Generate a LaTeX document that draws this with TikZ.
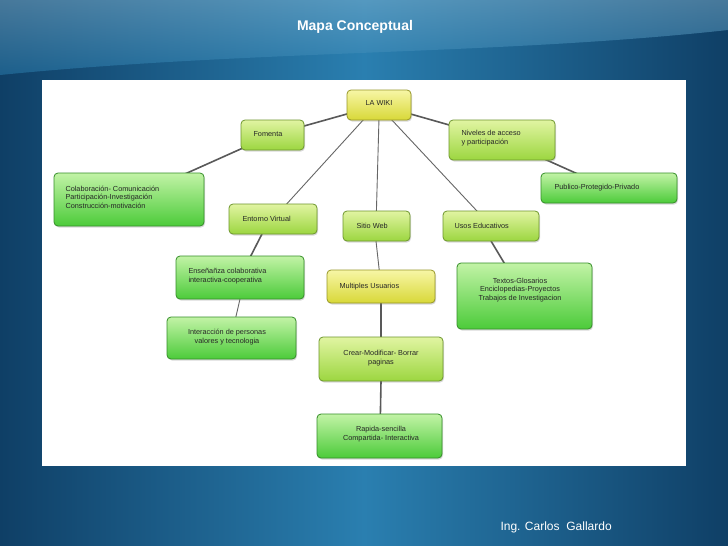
\documentclass[tikz,border=0pt]{standalone}
\usepackage{fontspec}
\setmainfont{Liberation Sans}
\usetikzlibrary{shadows}
\definecolor{bgdark}{HTML}{0F3F66}
\definecolor{bgmid}{HTML}{2A7FB0}
\definecolor{yel}{HTML}{F2F06A}
\definecolor{yelb}{HTML}{D8D838}
\definecolor{yg}{HTML}{D4F07A}
\definecolor{ygb}{HTML}{9CD640}
\definecolor{gr}{HTML}{A8EE80}
\definecolor{grb}{HTML}{4CCB3A}
\tikzset{
  box/.style={rounded corners=4pt, draw=#1!70!black, line width=0.8pt, drop shadow={opacity=0.3,shadow xshift=1pt,shadow yshift=-1.5pt}},
  txt/.style={font=\fontsize{7.3}{8.5}\selectfont, text=black!85, align=left, anchor=west},
  ctxt/.style={font=\fontsize{7.3}{8.5}\selectfont, text=black!85, align=center},
  link/.style={draw=black!65, line width=1.6pt},
  thin/.style={draw=black!60, line width=0.9pt}
}
\newcommand{\bx}[7]{% name, x1,y1,x2,y2, topcolor, botcolor
  \path[box=#7, top color=#6, bottom color=#7] (#2,#3) rectangle (#4,#5);
  \coordinate (#1) at ({(#2+#4)/2},{(#3+#5)/2});}
\begin{document}
\begin{tikzpicture}[x=1pt,y=-1pt]
\useasboundingbox (0,0) rectangle (728,546);
\shade[left color=bgdark, right color=bgdark, middle color=bgmid] (0,0) rectangle (728,546);
\shade[top color=bgmid!60!white, bottom color=bgmid, opacity=0.5] (0,0) -- (728,0) -- (728,30) .. controls (500,55) and (250,50) .. (0,75) -- cycle;
\node[text=white, font=\bfseries\fontsize{14}{16}\selectfont] (title) at (355,27) {Mapa Conceptual};
\fill[white] (42,80) rectangle (686,466);
% links
\coordinate (a) at (379,105);
\draw[link] (a) -- (272,135);
\draw[link] (a) -- (502,140);
\draw[link] (502,140) -- (609,188);
\draw[link] (272,135) -- (129,199);
\draw[thin] (365,118) -- (273,219);
\draw[thin] (379,118) -- (376,226);
\draw[thin] (390,118) -- (491,226);
\draw[link] (262,234) -- (240,277);
\draw[thin] (376,241) -- (381,286);
\draw[link] (491,241) -- (524,296);
\draw[thin] (240,299) -- (231,338);
\draw[link] (381,303) -- (381,359);
\draw[link] (381,381) -- (380,436);
% boxes
\bx{wiki}{347}{90}{411}{120}{yel!60!white}{yelb}
\node[ctxt] (twiki) at (379,103) {LA WIKI};
\bx{fom}{241}{120}{304}{150}{yg!70!white}{ygb}
\node[txt] (tfom) at (250,134) {Fomenta};
\bx{niv}{449}{120}{555}{160}{yg!70!white}{ygb}
\node[txt] (tniv) at (458,138) {Niveles de acceso\\y participación};
\bx{pub}{541}{173}{677}{203}{gr!70!white}{grb}
\node[txt] (tpub) at (551,188) {Publico-Protegido-Privado};
\bx{col}{54}{173}{204}{226}{gr!70!white}{grb}
\node[txt] (tcol) at (62,197) {Colaboración- Comunicación\\Participación-Investigación\\Construcción-motivación};
\bx{ent}{229}{204}{317}{234}{yg!70!white}{ygb}
\node[txt] (tent) at (239,219) {Entorno Virtual};
\bx{sit}{343}{211}{410}{241}{yg!70!white}{ygb}
\node[txt] (tsit) at (353,226) {Sitio Web};
\bx{uso}{443}{211}{539}{241}{yg!70!white}{ygb}
\node[txt] (tuso) at (451,226) {Usos Educativos};
\bx{ens}{176}{256}{304}{299}{gr!70!white}{grb}
\node[txt] (tens) at (185,276) {Enseñañza colaborativa\\interactiva-cooperativa};
\bx{tex}{457}{263}{592}{329}{gr!70!white}{grb}
\node[ctxt] (ttex) at (520,290) {Textos-Glosarios\\Enciclopedias-Proyectos\\Trabajos de Investigacion};
\bx{mul}{327}{270}{435}{303}{yel!60!white}{yelb}
\node[txt] (tmul) at (336,287) {Multiples Usuarios};
\bx{int}{167}{317}{296}{359}{gr!70!white}{grb}
\node[ctxt] (tint) at (227,337) {Interacción de personas\\valores y tecnologia};
\bx{cre}{319}{337}{443}{381}{yg!70!white}{ygb}
\node[ctxt] (tcre) at (381,358) {Crear-Modificar- Borrar\\paginas};
\bx{rap}{317}{414}{442}{458}{gr!70!white}{grb}
\node[ctxt] (trap) at (381,434) {Rapida-sencilla\\Compartida- Interactiva};
\node[text=white, font=\fontsize{12}{14}\selectfont, anchor=west] (foot) at (497,527) {Ing. Carlos\ \ Gallardo};
\end{tikzpicture}
\end{document}
